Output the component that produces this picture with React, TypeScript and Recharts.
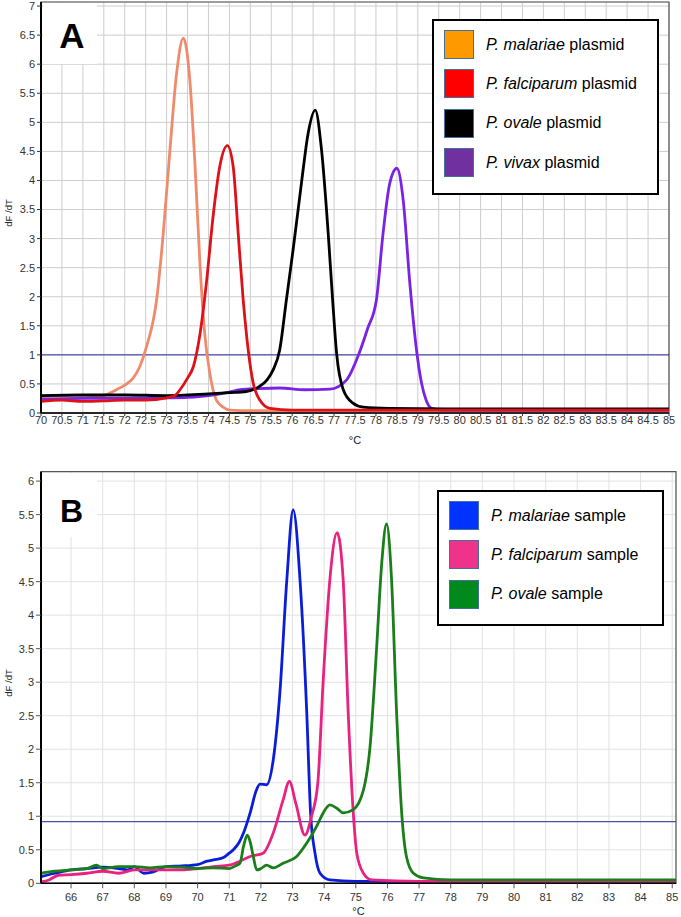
import React from 'react';
import { LineChart, Line, XAxis, YAxis, CartesianGrid, ReferenceLine, ReferenceArea, Legend } from 'recharts';

const FONT = '"Liberation Sans", Arial, Helvetica, sans-serif';

// ---------- Panel A (plasmids) ----------
const tMalariaePlasmid = [70, 70.5, 71, 71.5, 71.8, 72.0, 72.2, 72.36, 72.52, 72.76, 72.92, 73.08, 73.24, 73.4, 73.56, 73.68, 73.8, 73.91, 74.03, 74.19, 74.35, 74.51, 75, 76, 77, 78, 80, 85];
const vMalariaePlasmid = [0.25, 0.24, 0.26, 0.3, 0.4, 0.48, 0.6, 0.8, 1.14, 1.94, 3.09, 4.53, 5.85, 6.45, 5.68, 4.24, 2.52, 1.37, 0.69, 0.22, 0.1, 0.05, 0.04, 0.04, 0.04, 0.04, 0.04, 0.04];

const tFalciparumPlasmid = [70, 70.5, 71, 71.5, 72, 72.5, 73, 73.2, 73.32, 73.5, 73.64, 73.8, 73.95, 74.11, 74.27, 74.45, 74.59, 74.71, 74.83, 74.95, 75.07, 75.23, 75.47, 76, 78, 80, 85];
const vFalciparumPlasmid = [0.2, 0.22, 0.2, 0.21, 0.22, 0.22, 0.26, 0.3, 0.4, 0.6, 0.8, 1.37, 2.23, 3.38, 4.24, 4.6, 4.24, 3.09, 1.94, 1.08, 0.51, 0.22, 0.08, 0.05, 0.05, 0.05, 0.05];

const tOvalePlasmid = [70, 71, 72, 73, 74, 74.5, 74.9, 75.2, 75.4, 75.55, 75.7, 75.86, 76.02, 76.22, 76.38, 76.55, 76.7, 76.86, 76.97, 77.06, 77.22, 77.45, 77.7, 78.3, 80, 85];
const vOvalePlasmid = [0.3, 0.31, 0.31, 0.3, 0.33, 0.35, 0.37, 0.45, 0.57, 0.75, 1.08, 1.94, 2.8, 3.95, 4.81, 5.21, 4.53, 3.09, 1.9, 1.03, 0.4, 0.17, 0.1, 0.08, 0.07, 0.07];

const tVivaxPlasmid = [70, 71, 72, 73, 73.5, 74, 74.5, 74.75, 75.2, 75.7, 76.3, 76.9, 77.3, 77.6, 77.8, 78.01, 78.17, 78.33, 78.5, 78.65, 78.81, 78.97, 79.09, 79.2, 79.33, 79.6, 85];
const vVivaxPlasmid = [0.24, 0.25, 0.25, 0.26, 0.27, 0.3, 0.36, 0.4, 0.42, 0.43, 0.4, 0.41, 0.57, 1.03, 1.45, 1.94, 3.09, 3.95, 4.21, 3.67, 2.23, 1.08, 0.51, 0.22, 0.08, 0.05, 0.05];

const ticksAX = [70, 70.5, 71, 71.5, 72, 72.5, 73, 73.5, 74, 74.5, 75, 75.5, 76, 76.5, 77, 77.5, 78, 78.5, 79, 79.5, 80, 80.5, 81, 81.5, 82, 82.5, 83, 83.5, 84, 84.5, 85];
const ticksAY = [0, 0.5, 1, 1.5, 2, 2.5, 3, 3.5, 4, 4.5, 5, 5.5, 6, 6.5, 7];
const thresholdA = 1;

const legendANames = ['P. malariae', 'P. falciparum', 'P. ovale', 'P. vivax'];
const legendASuffix = ' plasmid';
const legendAColors = ['#FF9900', '#FF0000', '#000000', '#7030A0'];

// ---------- Panel B (samples) ----------
const tMalariaeSample = [65.05, 65.5, 66, 66.5, 67, 67.5, 67.8, 68, 68.3, 68.6, 69, 69.5, 70, 70.3, 70.5, 70.8, 71.0, 71.13, 71.3, 71.45, 71.66, 71.85, 71.97, 72.18, 72.39, 72.6, 72.82, 73.02, 73.24, 73.45, 73.57, 73.71, 73.87, 74.18, 75, 77, 85.12];
const vMalariaeSample = [0.1, 0.15, 0.2, 0.22, 0.24, 0.22, 0.2, 0.25, 0.15, 0.17, 0.25, 0.26, 0.28, 0.33, 0.35, 0.38, 0.45, 0.5, 0.6, 0.75, 1.05, 1.38, 1.48, 1.47, 1.84, 2.84, 4.53, 5.57, 4.5, 2.54, 1.05, 0.45, 0.15, 0.05, 0.03, 0.03, 0.03];

const tFalciparumSample = [65.05, 65.3, 65.6, 66, 66.5, 67, 67.5, 68, 68.5, 69, 69.5, 70, 70.5, 71, 71.34, 71.66, 72.07, 72.39, 72.7, 72.9, 73.1, 73.39, 73.6, 73.8, 73.97, 74.18, 74.41, 74.6, 74.76, 74.92, 75.03, 75.24, 75.5, 77, 85.12];
const vFalciparumSample = [0.02, 0.05, 0.12, 0.13, 0.15, 0.18, 0.15, 0.2, 0.2, 0.2, 0.2, 0.22, 0.25, 0.27, 0.33, 0.4, 0.45, 0.75, 1.24, 1.52, 1.2, 0.72, 1.0, 1.5, 3.03, 4.53, 5.23, 4.53, 2.54, 1.05, 0.45, 0.15, 0.05, 0.03, 0.03];

const tOvaleSample = [65.05, 65.5, 66, 66.5, 66.8, 67, 67.5, 68, 68.5, 69, 69.5, 70, 70.5, 71, 71.2, 71.34, 71.45, 71.57, 71.66, 71.76, 71.87, 72.0, 72.18, 72.39, 72.7, 73.13, 73.45, 73.76, 73.97, 74.18, 74.4, 74.6, 74.92, 75.24, 75.45, 75.66, 75.82, 75.97, 76.13, 76.29, 76.45, 76.6, 76.82, 77.14, 78, 85.12];
const vOvaleSample = [0.15, 0.18, 0.2, 0.22, 0.27, 0.22, 0.25, 0.25, 0.23, 0.25, 0.24, 0.22, 0.23, 0.22, 0.26, 0.3, 0.55, 0.72, 0.62, 0.4, 0.2, 0.22, 0.27, 0.23, 0.3, 0.4, 0.6, 0.85, 1.05, 1.17, 1.12, 1.05, 1.1, 1.39, 2.04, 3.53, 4.78, 5.36, 4.53, 2.54, 1.05, 0.4, 0.15, 0.08, 0.05, 0.05];

const ticksBX = [66, 67, 68, 69, 70, 71, 72, 73, 74, 75, 76, 77, 78, 79, 80, 81, 82, 83, 84, 85];
const ticksBY = [0, 0.5, 1, 1.5, 2, 2.5, 3, 3.5, 4, 4.5, 5, 5.5, 6];
const thresholdB = 0.92;

const legendBNames = ['P. malariae', 'P. falciparum', 'P. ovale'];
const legendBSuffix = ' sample';
const legendBColors = ['#0033FF', '#F0338A', '#008A1E'];

const zip = (t: number[], v: number[]) => t.map((x, i) => ({ t: x, v: v[i] }));

const LegendBox = ({ names, suffix, colors, width, height }: any) => (
  <div
    style={{
      width,
      height,
      boxSizing: 'border-box',
      border: '2px solid #000',
      background: '#fff',
      paddingTop: 4,
      paddingLeft: 10,
      fontFamily: FONT,
    }}
  >
    {names.map((n: string, i: number) => (
      <div key={n} style={{ display: 'flex', alignItems: 'center', height: 39.3 }}>
        <div
          style={{
            width: 30,
            height: 29,
            boxSizing: 'border-box',
            background: colors[i],
            border: '1.5px solid #41719C',
          }}
        />
        <span style={{ marginLeft: 12, fontSize: 16, color: '#000', whiteSpace: 'nowrap' }}>
          <i>{n}</i>
          {suffix}
        </span>
      </div>
    ))}
  </div>
);

const yLabel = (dy: number) => (props: any) => {
  const vb = props.viewBox;
  const cy = vb.y + vb.height / 2 + dy;
  return (
    <text x={12} y={cy} transform={`rotate(-90 12 ${cy})`} textAnchor="middle" fontSize={9.5} fill="#222" fontFamily={FONT}>
      dF /dT
    </text>
  );
};

const xLabel = (dy: number) => (props: any) => {
  const vb = props.viewBox;
  return (
    <text x={vb.x + vb.width / 2} y={vb.y + dy} textAnchor="middle" fontSize={11} fill="#222" fontFamily={FONT}>
      °C
    </text>
  );
};

const tickStyle = { fontSize: 11, fill: '#333', fontFamily: FONT };

export default function App() {
  return (
    <div style={{ position: 'absolute', left: 0, top: 0, width: 681, height: 917, background: '#fff', fontFamily: FONT }}>
      {/* Panel A */}
      <div style={{ position: 'absolute', left: 0, top: 0 }}>
        <LineChart width={681} height={452} margin={{ top: 2, right: 12, bottom: 5, left: 0 }}>
          <CartesianGrid stroke="#cdcdcd" strokeWidth={1} />
          <XAxis
            type="number"
            dataKey="t"
            domain={[70, 85]}
            ticks={ticksAX}
            interval={0}
            allowDataOverflow
            height={34}
            tick={tickStyle}
            tickSize={3}
            tickMargin={0}
            tickLine={{ stroke: '#333' }}
            axisLine={{ stroke: '#000', strokeWidth: 1.5 }}
            label={xLabel(31)}
          />
          <YAxis
            type="number"
            domain={[0, 7.07]}
            ticks={ticksAY}
            interval={0}
            allowDataOverflow
            width={41}
            tick={tickStyle}
            tickSize={4}
            tickMargin={2}
            tickLine={{ stroke: '#333' }}
            axisLine={{ stroke: '#000', strokeWidth: 2 }}
            label={yLabel(5.5)}
          />
          <ReferenceArea x1={70} x2={85} y1={0} y2={7.07} fill="none" stroke="#555" strokeWidth={1.2} />
          <ReferenceLine y={thresholdA} stroke="#2b2b96" strokeWidth={1} />
          <Line data={zip(tMalariaePlasmid, vMalariaePlasmid)} dataKey="v" type="monotone" dot={false} stroke="#F08A6C" strokeWidth={2.8} isAnimationActive={false} />
          <Line data={zip(tVivaxPlasmid, vVivaxPlasmid)} dataKey="v" type="monotone" dot={false} stroke="#7A22E6" strokeWidth={2.8} isAnimationActive={false} />
          <Line data={zip(tOvalePlasmid, vOvalePlasmid)} dataKey="v" type="monotone" dot={false} stroke="#000000" strokeWidth={2.8} isAnimationActive={false} />
          <Line data={zip(tFalciparumPlasmid, vFalciparumPlasmid)} dataKey="v" type="monotone" dot={false} stroke="#DD1118" strokeWidth={2.8} isAnimationActive={false} />
          <Legend
            layout="horizontal"
            verticalAlign="middle"
            align="center"
            wrapperStyle={{ left: 432, top: 19, width: 227, height: 176 }}
            content={() => <LegendBox names={legendANames} suffix={legendASuffix} colors={legendAColors} width={227} height={176} />}
          />
        </LineChart>
      </div>

      {/* Panel B */}
      <div style={{ position: 'absolute', left: 0, top: 460 }}>
        <LineChart width={681} height={457} margin={{ top: 11.7, right: 5, bottom: 3.7, left: 0 }}>
          <CartesianGrid stroke="#e2e2e2" strokeWidth={1} />
          <XAxis
            type="number"
            dataKey="t"
            domain={[65.05, 85.12]}
            ticks={ticksBX}
            interval={0}
            allowDataOverflow
            height={30}
            tick={tickStyle}
            tickSize={5}
            tickMargin={5}
            tickLine={{ stroke: '#555' }}
            axisLine={{ stroke: '#000', strokeWidth: 1.5 }}
            label={xLabel(31.5)}
          />
          <YAxis
            type="number"
            domain={[0, 6.14]}
            ticks={ticksBY}
            interval={0}
            allowDataOverflow
            width={41}
            tick={tickStyle}
            tickSize={5}
            tickMargin={2}
            tickLine={{ stroke: '#555' }}
            axisLine={{ stroke: '#000', strokeWidth: 2 }}
            label={yLabel(5.5)}
          />
          <ReferenceArea x1={65.05} x2={85.12} y1={0} y2={6.14} fill="none" stroke="#555" strokeWidth={1.2} />
          <ReferenceLine y={thresholdB} stroke="#4a4fa8" strokeWidth={1.3} />
          <Line data={zip(tMalariaeSample, vMalariaeSample)} dataKey="v" type="monotone" dot={false} stroke="#0A1ED8" strokeWidth={2.8} isAnimationActive={false} />
          <Line data={zip(tFalciparumSample, vFalciparumSample)} dataKey="v" type="monotone" dot={false} stroke="#E8237F" strokeWidth={2.8} isAnimationActive={false} />
          <Line data={zip(tOvaleSample, vOvaleSample)} dataKey="v" type="monotone" dot={false} stroke="#1A7F1A" strokeWidth={2.8} isAnimationActive={false} />
          <Legend
            layout="horizontal"
            verticalAlign="middle"
            align="center"
            wrapperStyle={{ left: 437, top: 30, width: 227, height: 136 }}
            content={() => <LegendBox names={legendBNames} suffix={legendBSuffix} colors={legendBColors} width={227} height={136} />}
          />
        </LineChart>
      </div>

      {/* Panel letters */}
      <svg width={681} height={917} style={{ position: 'absolute', left: 0, top: 0, pointerEvents: 'none' }}>
        <rect x={43} y={3} width={54} height={61} fill="#fff" />
        <text x={72} y={48} textAnchor="middle" fontSize={35} fontWeight="bold" fontFamily={FONT} fill="#000">A</text>
        <rect x={43} y={473} width={54} height={64} fill="#fff" />
        <text x={71.5} y={522} textAnchor="middle" fontSize={32} fontWeight="bold" fontFamily={FONT} fill="#000">B</text>
      </svg>
    </div>
  );
}
